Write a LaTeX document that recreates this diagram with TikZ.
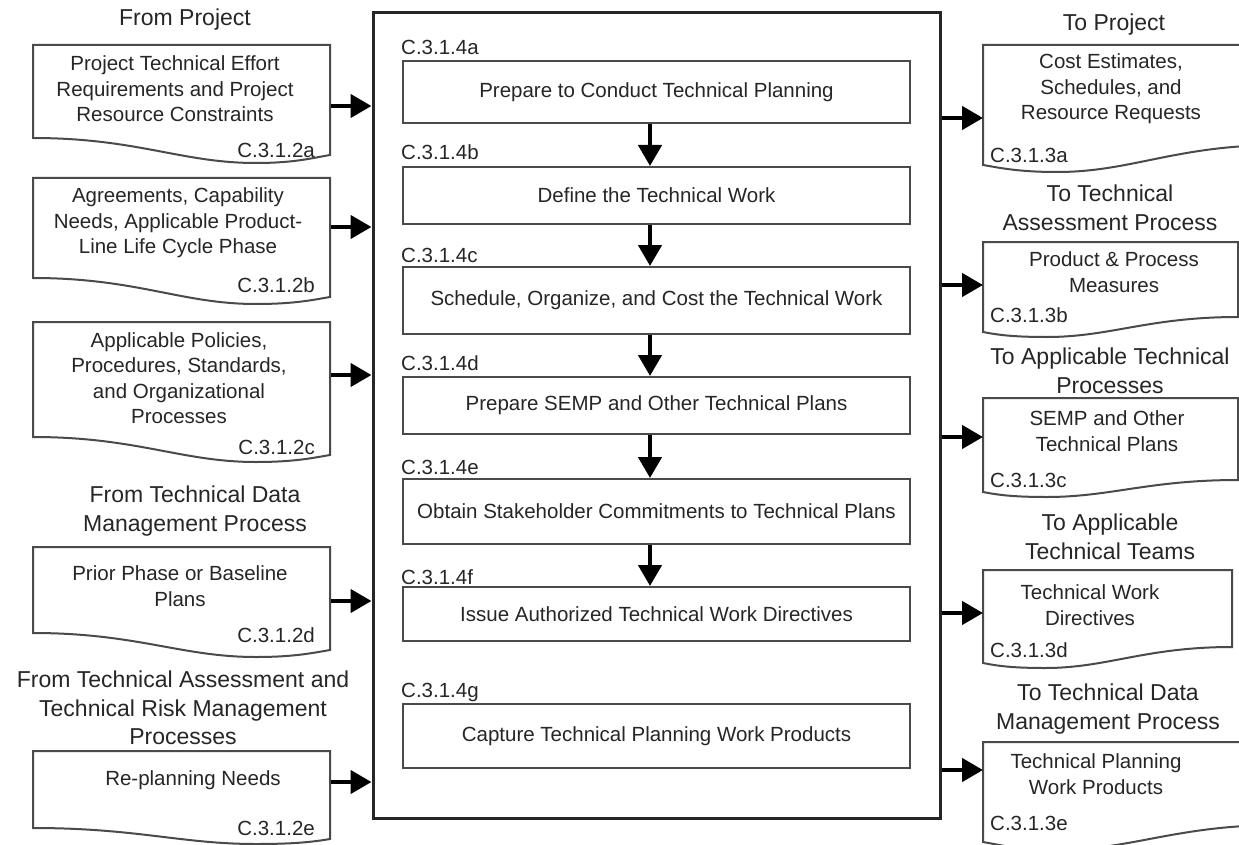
\documentclass[tikz,border=0pt]{standalone}
\usepackage{fontspec}
\setmainfont{Liberation Sans}
\usetikzlibrary{arrows.meta}
\definecolor{ink}{HTML}{262626}
\definecolor{edge}{HTML}{4A4A4A}

\tikzset{
  body/.style={font=\fontsize{20.5}{25.5}\selectfont, text=ink, align=center, inner sep=0pt},
  title/.style={font=\fontsize{23}{28.5}\selectfont, text=ink, align=center, inner sep=0pt},
  code/.style={font=\fontsize{20.5}{25}\selectfont, text=ink, inner sep=0pt},
  stepbox/.style={draw=edge, line width=2pt, fill=white, minimum width=507pt,
    inner sep=0pt, font=\fontsize{20.5}{25}\selectfont, text=ink},
  docline/.style={draw=edge, line width=2pt, fill=white},
  arr/.style={-{Triangle[length=21pt,width=23pt]}, line width=4.5pt, draw=black},
}

% input document on the left: #1 top, #2 left corner, #3 lowest point, #4 right corner
\newcommand\docLeft[4]{%
  \draw[docline] (33,#1) -- (330,#1) -- (330,#4)
    .. controls (312.2,#4+3) and (294.4,#3) .. (255.75,#3)
    .. controls (181.5,#3) and (137,#2) .. (33,#2) -- cycle;}

% output document on the right: #1 right edge, #2 top, #3 left corner, #4 lowest point, #5 right corner
\newcommand\docRight[5]{%
  \draw[docline] (983,#2) -- (#1,#2) -- (#1,#5)
    .. controls ({983+0.65*(#1-983)},#5) and ({983+0.5*(#1-983)},#4) .. ({983+0.25*(#1-983)},#4)
    .. controls ({983+0.12*(#1-983)},#4) and ({983+0.06*(#1-983)},#3+3) .. (983,#3) -- cycle;}

\begin{document}
\begin{tikzpicture}[x=1pt,y=-1pt]
\useasboundingbox (0,0) rectangle (1239,845);
\clip (0,0) rectangle (1239,845);
\fill[white] (0,0) rectangle (1239,845);

% ---------- central process ----------
\node[draw=ink, line width=3pt, minimum width=567pt, minimum height=805pt, inner sep=0pt] (main) at (656.5,415.5) {};

\node[stepbox, minimum height=62pt] (sa) at (656.5,92)    {Prepare to Conduct Technical Planning};
\node[stepbox, minimum height=57pt] (sb) at (656.5,195.5) {Define the Technical Work};
\node[stepbox, minimum height=67pt] (sc) at (656.5,300.5) {Schedule, Organize, and Cost the Technical Work};
\node[stepbox, minimum height=57pt] (sd) at (656.5,405.5) {Prepare SEMP and Other Technical Plans};
\node[stepbox, minimum height=65pt] (se) at (656.5,511.5) {Obtain Stakeholder Commitments to Technical Plans};
\node[stepbox, minimum height=54pt] (sf) at (656.5,614)   {Issue Authorized Technical Work Directives};
\node[stepbox, minimum height=64pt] (sg) at (656.5,736)   {Capture Technical Planning Work Products};

\node[code, anchor=west] (ca) at (401,47)  {C.3.1.4a};
\node[code, anchor=west] (cb) at (401,152) {C.3.1.4b};
\node[code, anchor=west] (cc) at (401,255) {C.3.1.4c};
\node[code, anchor=west] (cd) at (401,363) {C.3.1.4d};
\node[code, anchor=west] (ce) at (401,467) {C.3.1.4e};
\node[code, anchor=west] (cf) at (401,577) {C.3.1.4f};
\node[code, anchor=west] (cg) at (401,692) {C.3.1.4g};

\foreach \u/\v in {sa/sb,sb/sc,sc/sd,sd/se,se/sf}
  \draw[arr] ([xshift=-6.5pt]\u.south) -- ([xshift=-6.5pt]\v.north);

% ---------- inputs ----------
\node[title] (fa) at (185,20) {From Project};
\docLeft{45}{138}{163}{155}
\node[body] (ia) at (175,89) {Project Technical Effort\\Requirements and Project\\Resource Constraints};
\node[code, anchor=east] (ka) at (315,150) {C.3.1.2a};

\docLeft{178}{278}{304}{297}
\node[body] (ib) at (178,223) {Agreements, Capability\\Needs, Applicable Product-\\Line Life Cycle Phase};
\node[code, anchor=east] (kb) at (315,285) {C.3.1.2b};

\docLeft{322}{437}{462}{455}
\node[body] (ic) at (179,378) {Applicable Policies,\\Procedures, Standards,\\and Organizational\\Processes};
\node[code, anchor=east] (kc) at (315,447) {C.3.1.2c};

\node[title] (fd) at (195,511) {From Technical Data\\Management Process};
\docLeft{547}{633}{657}{650}
\node[body] (id) at (180,586) {Prior Phase or Baseline\\Plans};
\node[code, anchor=east] (kd) at (315,635) {C.3.1.2d};

\node[title] (fe) at (183,708) {From Technical Assessment and\\Technical Risk Management\\Processes};
\docLeft{751}{828}{844}{839}
\node[body] (ie) at (193,780) {Re-planning Needs};
\node[code, anchor=east] (ke) at (315,828) {C.3.1.2e};

\coordinate (pa) at (331,106);
\coordinate (pb) at (331,227);
\coordinate (pc) at (331,375);
\coordinate (pd) at (331,601);
\coordinate (pe) at (331,782);
\foreach \p in {pa,pb,pc,pd,pe}
  \draw[arr] (\p) -- (\p -| main.west);

% ---------- outputs ----------
\node[title] (ga) at (1114,25) {To Project};
\docRight{1280}{45}{165}{172}{145}
\node[body] (oa) at (1111,89) {Cost Estimates,\\Schedules, and\\Resource Requests};
\node[code, anchor=west] (qa) at (990,155) {C.3.1.3a};

\node[title] (gb) at (1110,208) {To Technical\\Assessment Process};
\docRight{1238}{242}{332}{337}{317}
\node[body] (ob) at (1114,272) {Product \& Process\\Measures};
\node[code, anchor=west] (qb) at (990,315) {C.3.1.3b};

\node[title] (gc) at (1110,371) {To Applicable Technical\\Processes};
\docRight{1238}{398}{492}{497}{480}
\node[body] (oc) at (1107,431) {SEMP and Other\\Technical Plans};
\node[code, anchor=west] (qc) at (990,480) {C.3.1.3c};

\node[title] (gd) at (1110,537) {To Applicable\\Technical Teams};
\docRight{1232}{570}{663}{668}{647}
\node[body] (od) at (1090,605) {Technical Work\\Directives};
\node[code, anchor=west] (qd) at (990,650) {C.3.1.3d};

\node[title] (ge) at (1108,709) {To Technical Data\\Management Process};
\docRight{1280}{742}{842}{850}{825}
\node[body] (oe) at (1096,774) {Technical Planning\\Work Products};
\node[code, anchor=west] (qe) at (990,823) {C.3.1.3e};

\coordinate (ra) at (983,118);
\coordinate (rb) at (983,285);
\coordinate (rc) at (983,437);
\coordinate (rd) at (983,613);
\coordinate (re) at (983,770);
\foreach \r in {ra,rb,rc,rd,re}
  \draw[arr] (\r -| main.east) -- (\r);
\end{tikzpicture}
\end{document}
